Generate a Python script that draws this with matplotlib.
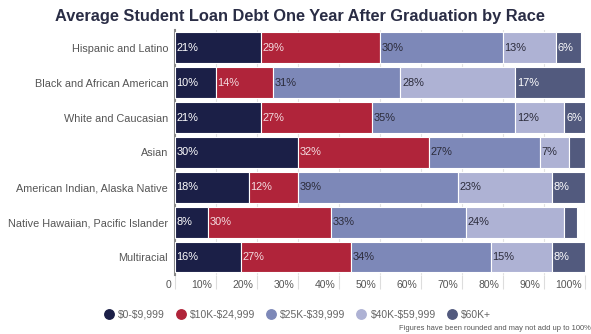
import matplotlib
matplotlib.use("Agg")
import matplotlib.pyplot as plt
from matplotlib.lines import Line2D
from matplotlib.transforms import ScaledTranslation
import numpy as np

plt.rcParams['font.family'] = ['Liberation Sans', 'DejaVu Sans']

categories = ["Hispanic and Latino", "Black and African American", "White and Caucasian",
              "Asian", "American Indian, Alaska Native", "Native Hawaiian, Pacific Islander",
              "Multiracial"]
series_names = [r"\$0-\$9,999", r"\$10K-\$24,999", r"\$25K-\$39,999", r"\$40K-\$59,999", r"\$60K+"]
v_0_10k   = [21, 10, 21, 30, 18, 8, 16]
v_10_25k  = [29, 14, 27, 32, 12, 30, 27]
v_25_40k  = [30, 31, 35, 27, 39, 33, 34]
v_40_60k  = [13, 28, 12, 7, 23, 24, 15]
v_60k     = [6, 17, 6, 4, 8, 3, 8]
show_label = [[True]*7, [True]*7, [True]*7, [True]*7,
              [True, True, True, False, True, False, True]]
series = [v_0_10k, v_10_25k, v_25_40k, v_40_60k, v_60k]
colors = ["#1b1f47", "#b0243a", "#7d88b8", "#aeb2d4", "#525a7e"]
text_colors = ["white", "#f4dde1", "#2b2b3a", "#2b2b3a", "white"]
xticks = [0, 10, 20, 30, 40, 50, 60, 70, 80, 90, 100]
xticklabels = ["0"] + [f"{t}%" for t in xticks[1:]]

fig = plt.figure(figsize=(5.91, 3.34), dpi=100)
ax = fig.add_axes([0.2961, 0.178, 0.6937, 0.731])

y = np.arange(len(categories))
left = np.zeros(len(categories))
for i, (vals, c) in enumerate(zip(series, colors)):
    vals = np.array(vals, dtype=float)
    ax.barh(y, vals, left=left, height=0.88, color=c, edgecolor="white",
            linewidth=0.8, zorder=3)
    for j in range(len(categories)):
        if show_label[i][j]:
            ax.text(left[j] + 0.4, y[j], f"{int(vals[j])}%", ha="left", va="center",
                    fontsize=7.9, color=text_colors[i], zorder=4)
    left += vals

ax.set_xlim(0, 100)
ax.set_ylim(len(categories) - 0.5, -0.5)
ax.set_yticks(y)
ax.set_yticklabels(categories, fontsize=7.8, color="#555555")
ax.tick_params(axis="y", length=0, pad=5)
ax.set_xticks(xticks)
ax.set_xticklabels(xticklabels, fontsize=7.5, color="#555555")
ax.tick_params(axis="x", length=10, width=0.8, color="#dddddd", pad=-6)
for lab in ax.get_xticklabels():
    lab.set_ha("right")
    lab.set_transform(lab.get_transform() + ScaledTranslation(-2.5/72, 0, fig.dpi_scale_trans))
ax.xaxis.grid(True, color="#e3e3e3", linewidth=0.8, zorder=0)
ax.set_axisbelow(True)
for s in ["top", "right", "bottom"]:
    ax.spines[s].set_visible(False)
ax.spines["left"].set_color("#888888")
ax.spines["left"].set_linewidth(1.5)

fig.text(0.507, 0.952, "Average Student Loan Debt One Year After Graduation by Race",
         ha="center", va="center", fontsize=11.8, fontweight="bold", color="#2a2d45")

handles = [Line2D([0], [0], marker="o", linestyle="none", markersize=6.8,
                  markerfacecolor=c, markeredgecolor=c) for c in colors]
fig.legend(handles, series_names, loc="center", bbox_to_anchor=(0.503, 0.057), ncol=5,
           frameon=False, fontsize=7.5, labelcolor="#666666", handletextpad=0.4,
           columnspacing=1.0, handlelength=1.0)
fig.text(0.999, 0.015, "Figures have been rounded and may not add up to 100%",
         ha="right", va="center", fontsize=5.4, color="#555555")

fig.savefig("out.png", dpi=100)
